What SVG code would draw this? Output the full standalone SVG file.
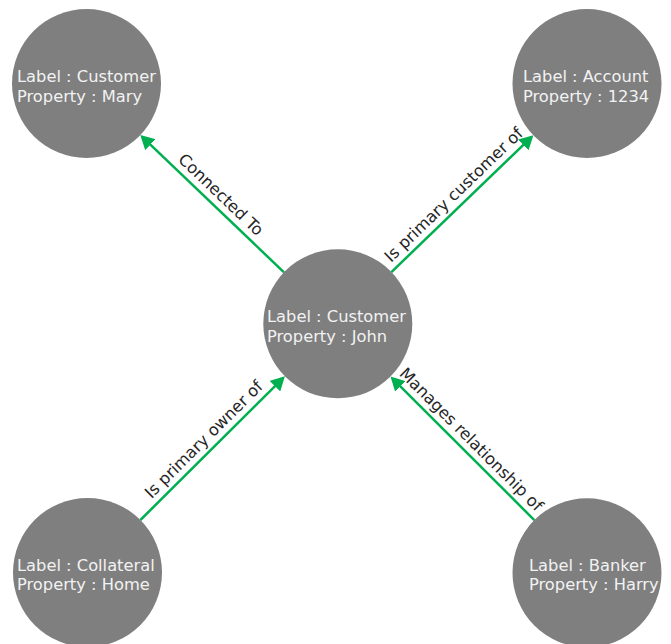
<svg xmlns="http://www.w3.org/2000/svg" width="671" height="644" viewBox="0 0 671 644">
  <style>
    .node circle { fill: #7f7f7f; }
    .node text { font-family: "DejaVu Sans", Verdana, sans-serif; font-size: 16.3px; fill: #f2f2f2; }
    .edge line { stroke: #00b050; stroke-width: 2.5; fill: none; marker-end: url(#arrow); }
    .edge text { font-family: "DejaVu Sans", Verdana, sans-serif; font-size: 16.3px; fill: #262626; text-anchor: middle; }
  </style>
  <defs>
    <marker id="arrow" viewBox="0 0 14 15" refX="4" refY="7.5" markerWidth="14" markerHeight="15" markerUnits="userSpaceOnUse" orient="auto">
      <path d="M0,0 L14,7.5 L0,15 Z" fill="#00b050"/>
    </marker>
  </defs>

  <rect width="671" height="644" fill="#ffffff"/>

  <g id="edges">
    <g class="edge" id="edge-john-mary">
      <line x1="284" y1="272.3" x2="147.5" y2="141.9"/>
      <text transform="translate(217.1,198.6) rotate(43.7)">Connected To</text>
    </g>
    <g class="edge" id="edge-john-account">
      <line x1="391.4" y1="272.1" x2="526.2" y2="142.1"/>
      <text transform="translate(457.5,198.7) rotate(-44)">Is primary customer of</text>
    </g>
    <g class="edge" id="edge-collateral-john">
      <line x1="140.4" y1="520" x2="277.8" y2="383.3"/>
      <text transform="translate(207.7,443.3) rotate(-44.8)">Is primary owner of</text>
    </g>
    <g class="edge" id="edge-banker-john">
      <line x1="534.3" y1="520.1" x2="397.6" y2="383.6"/>
      <text transform="translate(467.3,443.4) rotate(45)">Manages relationship of</text>
    </g>
  </g>

  <g class="node" id="node-mary">
    <circle cx="86.5" cy="83.5" r="74.5"/>
    <text x="17" y="82">Label : Customer</text>
    <text x="17" y="101.5">Property : Mary</text>
  </g>
  <g class="node" id="node-account">
    <circle cx="587" cy="83.5" r="74.5"/>
    <text x="523" y="82">Label : Account</text>
    <text x="523" y="101.5">Property : 1234</text>
  </g>
  <g class="node" id="node-john">
    <circle cx="337.8" cy="323.8" r="74.5"/>
    <text x="267" y="322.3">Label : Customer</text>
    <text x="267" y="341.7">Property : John</text>
  </g>
  <g class="node" id="node-collateral">
    <circle cx="87.5" cy="572.5" r="74.5"/>
    <text x="17" y="570.7">Label : Collateral</text>
    <text x="17" y="590">Property : Home</text>
  </g>
  <g class="node" id="node-banker">
    <circle cx="587" cy="572.8" r="74.5"/>
    <text x="529" y="570.7">Label : Banker</text>
    <text x="529" y="590">Property : Harry</text>
  </g>
</svg>
